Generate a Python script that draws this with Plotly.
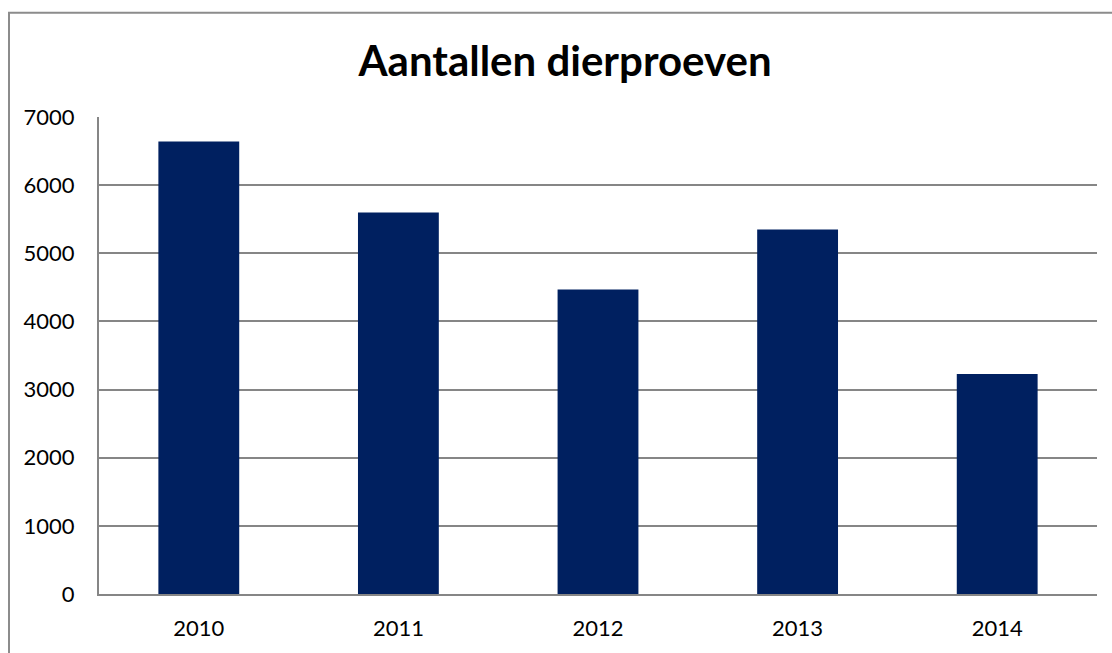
import plotly.graph_objects as go

years = ["2010", "2011", "2012", "2013", "2014"]
counts = [6640, 5600, 4470, 5350, 3230]
y_ticks = [0, 1000, 2000, 3000, 4000, 5000, 6000, 7000]
title_text = "Aantallen dierproeven"

W, H = 1112, 653
L, R, T, B = 99, 15, 117, 56

fig = go.Figure(go.Bar(
    x=years, y=counts,
    marker=dict(color="#002060", line=dict(width=0)),
    width=0.405,
))

pw = W - L - R
ph = H - T - B

fig.update_layout(
    width=W, height=H,
    margin=dict(l=L, r=R, t=T, b=B, pad=0),
    paper_bgcolor="white", plot_bgcolor="white",
    font=dict(family="Lato, 'Open Sans', sans-serif", size=22, color="black"),
    title=dict(text="<b>" + title_text + "</b>", x=(565) / W, xanchor="center",
               y=1 - 61 / H, yanchor="middle", yref="container",
               font=dict(size=42, family="Lato, sans-serif", color="black")),
    showlegend=False,
    xaxis=dict(showline=True, linecolor="#868686", linewidth=2, showgrid=False,
               ticks="outside", ticklen=14, tickcolor="rgba(0,0,0,0)",
               tickfont=dict(size=22)),
    yaxis=dict(range=[0, 7000], tickvals=y_ticks, showgrid=True, gridcolor="#868686",
               gridwidth=1.5, showline=True, linecolor="#868686", linewidth=2,
               ticks="outside", ticklen=18, tickcolor="rgba(0,0,0,0)",
               zeroline=False, tickfont=dict(size=22)),
    shapes=[dict(type="rect", xref="paper", yref="paper",
                 x0=(9 - L) / pw, x1=1.2, y0=-0.5, y1=(H - B - 12) / ph,
                 line=dict(color="#8c8c8c", width=2), fillcolor="rgba(0,0,0,0)",
                 layer="below")],
)

fig.write_html("out.html", config={"displayModeBar": False},
               post_script="document.body.style.margin='0px';document.body.style.overflow='hidden';")
